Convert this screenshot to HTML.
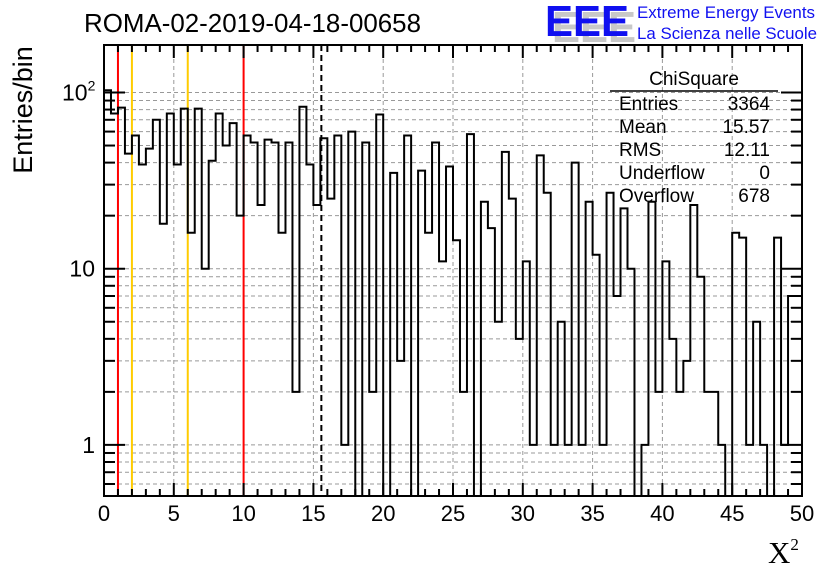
<!DOCTYPE html>
<html><head><meta charset="utf-8">
<style>
html,body{margin:0;padding:0;background:#fff;}
svg{display:block;font-family:"Liberation Sans",sans-serif;}
</style></head>
<body>
<svg id="chart" width="836" height="572" viewBox="0 0 836 572">
<rect x="0" y="0" width="836" height="572" fill="#fff"/>
<g id="grid"></g>
<g id="marks"></g>
<g id="axes"></g>
<text x="84" y="32" font-size="26" fill="#000" textLength="337" lengthAdjust="spacingAndGlyphs">ROMA-02-2019-04-18-00658</text>
<g>
<text x="552" y="42" font-size="44" font-weight="bold" fill="#c8c8c8" textLength="84" lengthAdjust="spacingAndGlyphs">EEE</text>
<text x="545" y="36" font-size="44" font-weight="bold" fill="#1010f0" textLength="84" lengthAdjust="spacingAndGlyphs">EEE</text>
<text x="637" y="18" font-size="17" fill="#1010f0" textLength="178" lengthAdjust="spacingAndGlyphs">Extreme Energy Events</text>
<text x="637" y="39" font-size="17" fill="#1010f0" textLength="180" lengthAdjust="spacingAndGlyphs">La Scienza nelle Scuole</text>
</g>
<g font-size="19">
<text x="694" y="85" text-anchor="middle">ChiSquare</text>
<line x1="610" y1="91" x2="778" y2="91" stroke="#000" stroke-width="1.5"/>
<text x="619" y="110">Entries</text><text x="770" y="110" text-anchor="end">3364</text>
<text x="619" y="133">Mean</text><text x="770" y="133" text-anchor="end">15.57</text>
<text x="619" y="156">RMS</text><text x="770" y="156" text-anchor="end">12.11</text>
<text x="619" y="179">Underflow</text><text x="770" y="179" text-anchor="end">0</text>
<text x="619" y="202">Overflow</text><text x="770" y="202" text-anchor="end">678</text>
</g>
<text transform="translate(32,110) rotate(-90)" text-anchor="middle" font-size="27">Entries/bin</text>
<text x="768" y="563" font-size="31" font-family="Liberation Serif,serif">X<tspan font-size="17" dy="-13">2</tspan></text>
</svg>
<script>
const binCounts = [103,76,82,45,57,39,48,70,18,76,39,81,16,81,10,41,76,50,67,20,57,52,23,54,52,16,52,2,83,39,23,55,25,57,1,60,0,52,2,75,0,35,3,57,0,36,16,52,11,38,14.5,2,58,0,24,17,5,46,25,4,11,1,44,27,1,5,1,40,1,24,12,1,27,7,22,10,0,1,24,2,11,4,2,3,23,9,2,2,1,0,16,15,1,5,1,0,15,1,7,7];
const xTickLabels = ["0","5","10","15","20","25","30","35","40","45","50"];
const refLinesRed = [1,10];
const refLinesYellow = [2,6];
const meanValue = 15.57;

const L=104,R=802,T=45,B=496;
const xMin=0,xMax=50,binW=0.5;
const yLo=Math.log10(0.513),yHi=Math.log10(186);
function xs(v){return L+(v-xMin)/(xMax-xMin)*(R-L);}
function ys(v){ if(v<=0) return B; return Math.max(T,Math.min(B,B-(Math.log10(v)-yLo)/(yHi-yLo)*(B-T)));}
const NS="http://www.w3.org/2000/svg";
function mk(tag,attrs,parent){const e=document.createElementNS(NS,tag);for(const k in attrs)e.setAttribute(k,attrs[k]);parent.appendChild(e);return e;}
const grid=document.getElementById('grid'),marks=document.getElementById('marks'),axes=document.getElementById('axes');
const decades=[0.1,1,10,100];
decades.forEach(d=>{for(let m=1;m<=9;m++){const v=d*m;const y=ys(v);if(v<0.52||v>186)continue;
 const g=mk('line',{x1:L,x2:R,y1:y,y2:y,stroke:'#999','stroke-width':1,'stroke-dasharray':'4,3'},grid);
 
 
}});
xTickLabels.forEach((t,i)=>{const v=parseFloat(t);if(v<=xMin||v>=xMax)return;const x=xs(v);
 const g=mk('line',{x1:x,x2:x,y1:T,y2:B,stroke:'#999','stroke-width':1,'stroke-dasharray':'4,3'},grid);
 
 
});
refLinesRed.forEach(v=>{const l=mk('line',{x1:xs(v),x2:xs(v),y1:T,y2:B,stroke:'#f00','stroke-width':2},marks);
 
 });
refLinesYellow.forEach(v=>{const l=mk('line',{x1:xs(v),x2:xs(v),y1:T,y2:B,stroke:'#ffcc00','stroke-width':2},marks);
 
 });
const ml=mk('line',{x1:xs(meanValue),x2:xs(meanValue),y1:T,y2:B,stroke:'#000','stroke-width':2,'stroke-dasharray':'6,4'},marks);


let d='M'+xs(0)+','+ys(binCounts[0]);
binCounts.forEach((c,i)=>{const x0=xs(i*binW),x1=xs((i+1)*binW),y=ys(c);
 d+=' L'+x0+','+y+' L'+x1+','+y;});
d+=' L'+xs(binCounts.length*binW)+','+B;
const p=mk('path',{d:d,fill:'none',stroke:'#000','stroke-width':2},marks);


const fr=mk('rect',{x:L,y:T,width:R-L,height:B-T,fill:'none',stroke:'#000','stroke-width':2},axes);


for(let v=0;v<=50;v+=1){const x=xs(v);const major=v%5===0;const len=major?13:7;
 mk('line',{x1:x,x2:x,y1:B,y2:B-len,stroke:'#000','stroke-width':2},axes);
 mk('line',{x1:x,x2:x,y1:T,y2:T+len,stroke:'#000','stroke-width':2},axes);}
xTickLabels.forEach(t=>{const tx=mk('text',{x:xs(parseFloat(t)),y:521,'font-size':22,'text-anchor':'middle'},axes);tx.textContent=t;
 
 });
decades.forEach(dd=>{for(let m=1;m<=9;m++){const v=dd*m;if(v<0.52||v>186)continue;const y=ys(v);const len=m===1?21:11;
 mk('line',{x1:L,x2:L+len,y1:y,y2:y,stroke:'#000','stroke-width':2},axes);
 mk('line',{x1:R,x2:R-len,y1:y,y2:y,stroke:'#000','stroke-width':2},axes);}});
const yl=[{v:100,t:'10',s:'2',x:80},{v:10,t:'10',s:'',x:95},{v:1,t:'1',s:'',x:95}];
yl.forEach(o=>{const tx=mk('text',{x:o.x,y:ys(o.v)+8,'font-size':23,'text-anchor':o.s?'start':'end'},axes);
 tx.textContent=o.t;
 if(o.s){const ts=mk('tspan',{'font-size':14,dy:-10},tx);ts.textContent=o.s;tx.setAttribute('x',62);}
 
 });
</script>
</body></html>
